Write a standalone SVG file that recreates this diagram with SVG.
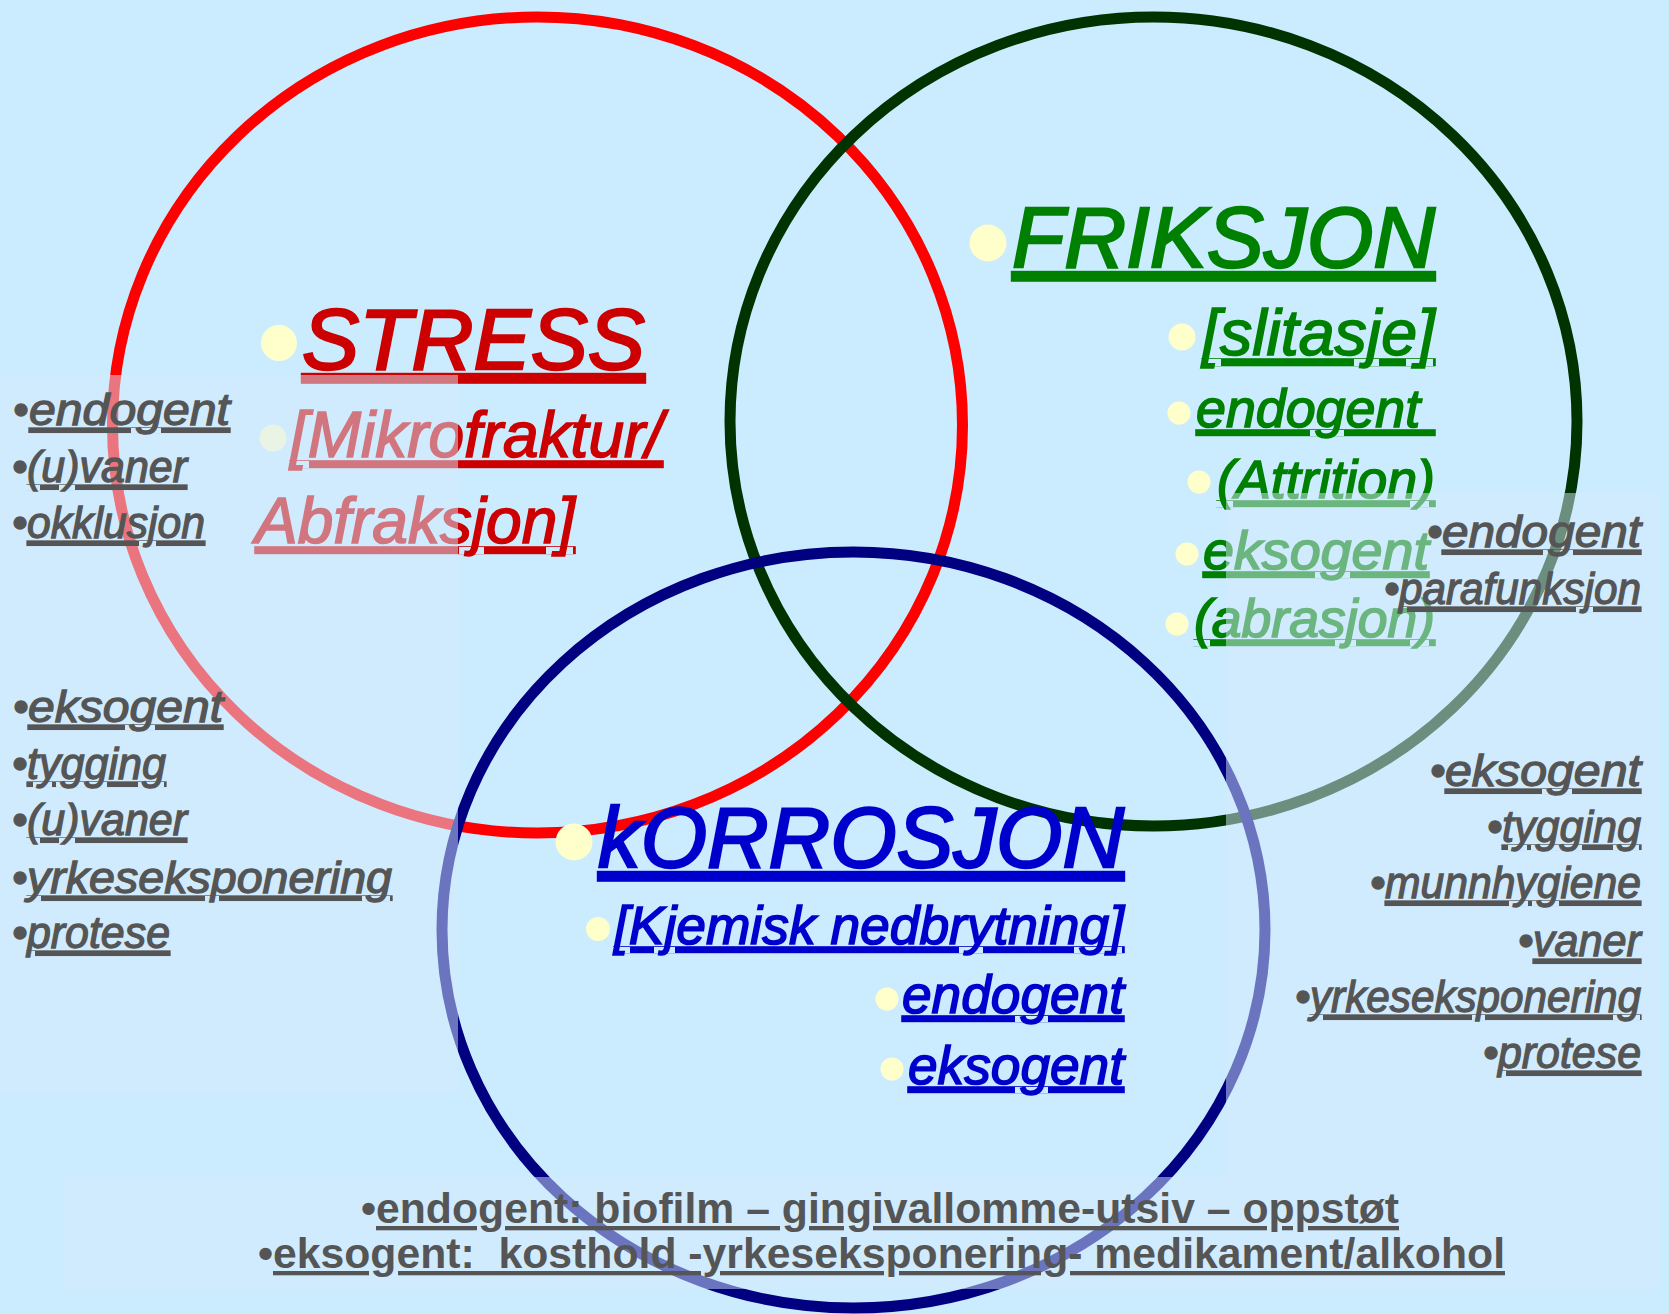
<svg xmlns="http://www.w3.org/2000/svg" width="1669" height="1314" viewBox="0 0 1669 1314">
<style>
text{font-family:"Liberation Sans",Arial,sans-serif;font-style:italic}
.u{text-decoration:underline}
.r{fill:#cc0000;stroke:#cc0000}
.g{fill:#008000;stroke:#008000}
.b{fill:#0000cc;stroke:#0000cc}
.h{stroke-width:2.4px}
.s{stroke-width:1.6px}
.k{fill:#555555;stroke:#555555;stroke-width:1.3px;font-size:44px}
.bul{fill:#ffffcc}
.ring{fill:none;stroke-width:11}
.box{fill:#d5e9fe;fill-opacity:0.5}
.foot{font-style:normal;font-weight:bold;font-size:43px;fill:#555555}
</style>
<rect width="1669" height="1314" fill="#cbecfe"/>
<g id="connectors"></g>
<g id="stress">
<ellipse class="ring" cx="537.5" cy="425" rx="425" ry="408" stroke="#ff0000"/>
</g>
<g id="friksjon">
<ellipse class="ring" cx="1153.5" cy="421.5" rx="423.5" ry="404.5" stroke="#003300"/>
</g>
<g id="korrosjon">
<ellipse class="ring" cx="853.5" cy="930" rx="411.5" ry="378" stroke="#000080"/>
</g>
<g id="stress-text">
<circle class="bul" cx="279" cy="343" r="18"/>
<text class="r u h" x="302" y="369" font-size="86" textLength="343" lengthAdjust="spacingAndGlyphs">STRESS</text>
<circle class="bul" cx="273" cy="438" r="13.5"/>
<text class="r u s" x="290" y="457" font-size="64" textLength="373" lengthAdjust="spacingAndGlyphs">[Mikrofraktur/</text>
<text class="r u s" x="255" y="543" font-size="64" textLength="320" lengthAdjust="spacingAndGlyphs">Abfraksjon]</text>
</g>
<g id="friksjon-text">
<circle class="bul" cx="988" cy="243" r="18.5"/>
<text class="g u h" x="1012" y="267" font-size="86" textLength="423" lengthAdjust="spacingAndGlyphs">FRIKSJON</text>
<circle class="bul" cx="1182" cy="337" r="13.5"/>
<text class="g u s" x="1202" y="355" font-size="65" textLength="233" lengthAdjust="spacingAndGlyphs">[slitasje]</text>
<circle class="bul" cx="1179" cy="413" r="11.5"/>
<text class="g u s" x="1196" y="427" font-size="54" textLength="239" lengthAdjust="spacingAndGlyphs">endogent&#160;</text>
<circle class="bul" cx="1199" cy="482" r="11.5"/>
<text class="g u s" x="1217" y="498" font-size="54" textLength="218" lengthAdjust="spacingAndGlyphs">(Attrition)</text>
<circle class="bul" cx="1187" cy="554" r="11.5"/>
<text class="g u s" x="1203" y="569" font-size="54" textLength="226" lengthAdjust="spacingAndGlyphs">eksogent</text>
<circle class="bul" cx="1177" cy="624" r="11.5"/>
<text class="g u s" x="1194" y="637" font-size="54" textLength="241" lengthAdjust="spacingAndGlyphs">(abrasjon)</text>
</g>
<g id="korrosjon-text">
<circle class="bul" cx="574" cy="842" r="18.5"/>
<text class="b u h" x="598" y="867" font-size="86" textLength="526" lengthAdjust="spacingAndGlyphs">kORROSJON</text>
<circle class="bul" cx="598" cy="929" r="12"/>
<text class="b u s" x="614" y="944" font-size="54" textLength="510" lengthAdjust="spacingAndGlyphs">[Kjemisk nedbrytning]</text>
<circle class="bul" cx="887" cy="999" r="11.5"/>
<text class="b u s" x="902" y="1013" font-size="54" textLength="222" lengthAdjust="spacingAndGlyphs">endogent</text>
<circle class="bul" cx="892" cy="1069" r="11.5"/>
<text class="b u s" x="908" y="1084" font-size="54" textLength="216" lengthAdjust="spacingAndGlyphs">eksogent</text>
</g>
<g id="overlays">
<rect class="box" x="0" y="375" width="458" height="718"/>
<rect class="box" x="1226" y="493" width="434" height="684"/>
<rect class="box" x="64" y="1177" width="1596" height="112"/>
</g>
<g id="notes-left">
<text class="k" x="13" y="425">•</text><text class="k u" x="29" y="425" textLength="201" lengthAdjust="spacingAndGlyphs">endogent</text>
<text class="k" x="12" y="482">•</text><text class="k u" x="27" y="482" textLength="160" lengthAdjust="spacingAndGlyphs">(u)vaner</text>
<text class="k" x="12" y="538">•</text><text class="k u" x="27" y="538" textLength="178" lengthAdjust="spacingAndGlyphs">okklusjon</text>
<text class="k" x="13" y="722">•</text><text class="k u" x="28" y="722" textLength="195" lengthAdjust="spacingAndGlyphs">eksogent</text>
<text class="k" x="12" y="779">•</text><text class="k u" x="27" y="779" textLength="139" lengthAdjust="spacingAndGlyphs">tygging</text>
<text class="k" x="12" y="835">•</text><text class="k u" x="27" y="835" textLength="160" lengthAdjust="spacingAndGlyphs">(u)vaner</text>
<text class="k" x="12" y="893">•</text><text class="k u" x="27" y="893" textLength="365" lengthAdjust="spacingAndGlyphs">yrkeseksponering</text>
<text class="k" x="12" y="948">•</text><text class="k u" x="27" y="948" textLength="143" lengthAdjust="spacingAndGlyphs">protese</text>
</g>
<g id="notes-right">
<text class="k" x="1427" y="547">•</text><text class="k u" x="1442" y="547" textLength="199" lengthAdjust="spacingAndGlyphs">endogent</text>
<text class="k" x="1384" y="604">•</text><text class="k u" x="1399" y="604" textLength="242" lengthAdjust="spacingAndGlyphs">parafunksjon</text>
<text class="k" x="1430" y="786">•</text><text class="k u" x="1445" y="786" textLength="196" lengthAdjust="spacingAndGlyphs">eksogent</text>
<text class="k" x="1487" y="842">•</text><text class="k u" x="1502" y="842" textLength="139" lengthAdjust="spacingAndGlyphs">tygging</text>
<text class="k" x="1370" y="898">•</text><text class="k u" x="1385" y="898" textLength="256" lengthAdjust="spacingAndGlyphs">munnhygiene</text>
<text class="k" x="1518" y="956">•</text><text class="k u" x="1533" y="956" textLength="108" lengthAdjust="spacingAndGlyphs">vaner</text>
<text class="k" x="1295" y="1012">•</text><text class="k u" x="1310" y="1012" textLength="331" lengthAdjust="spacingAndGlyphs">yrkeseksponering</text>
<text class="k" x="1483" y="1068">•</text><text class="k u" x="1498" y="1068" textLength="143" lengthAdjust="spacingAndGlyphs">protese</text>
</g>
<g id="notes-bottom">
<text class="foot" x="361" y="1223">•</text><text class="foot u" x="376" y="1223" textLength="1023" lengthAdjust="spacingAndGlyphs">endogent: biofilm – gingivallomme-utsiv – oppstøt</text>
<text class="foot" x="258" y="1268">•</text><text class="foot u" x="273" y="1268" textLength="1232" lengthAdjust="spacingAndGlyphs">eksogent:&#160; kosthold -yrkeseksponering- medikament/alkohol</text>
</g>
</svg>
